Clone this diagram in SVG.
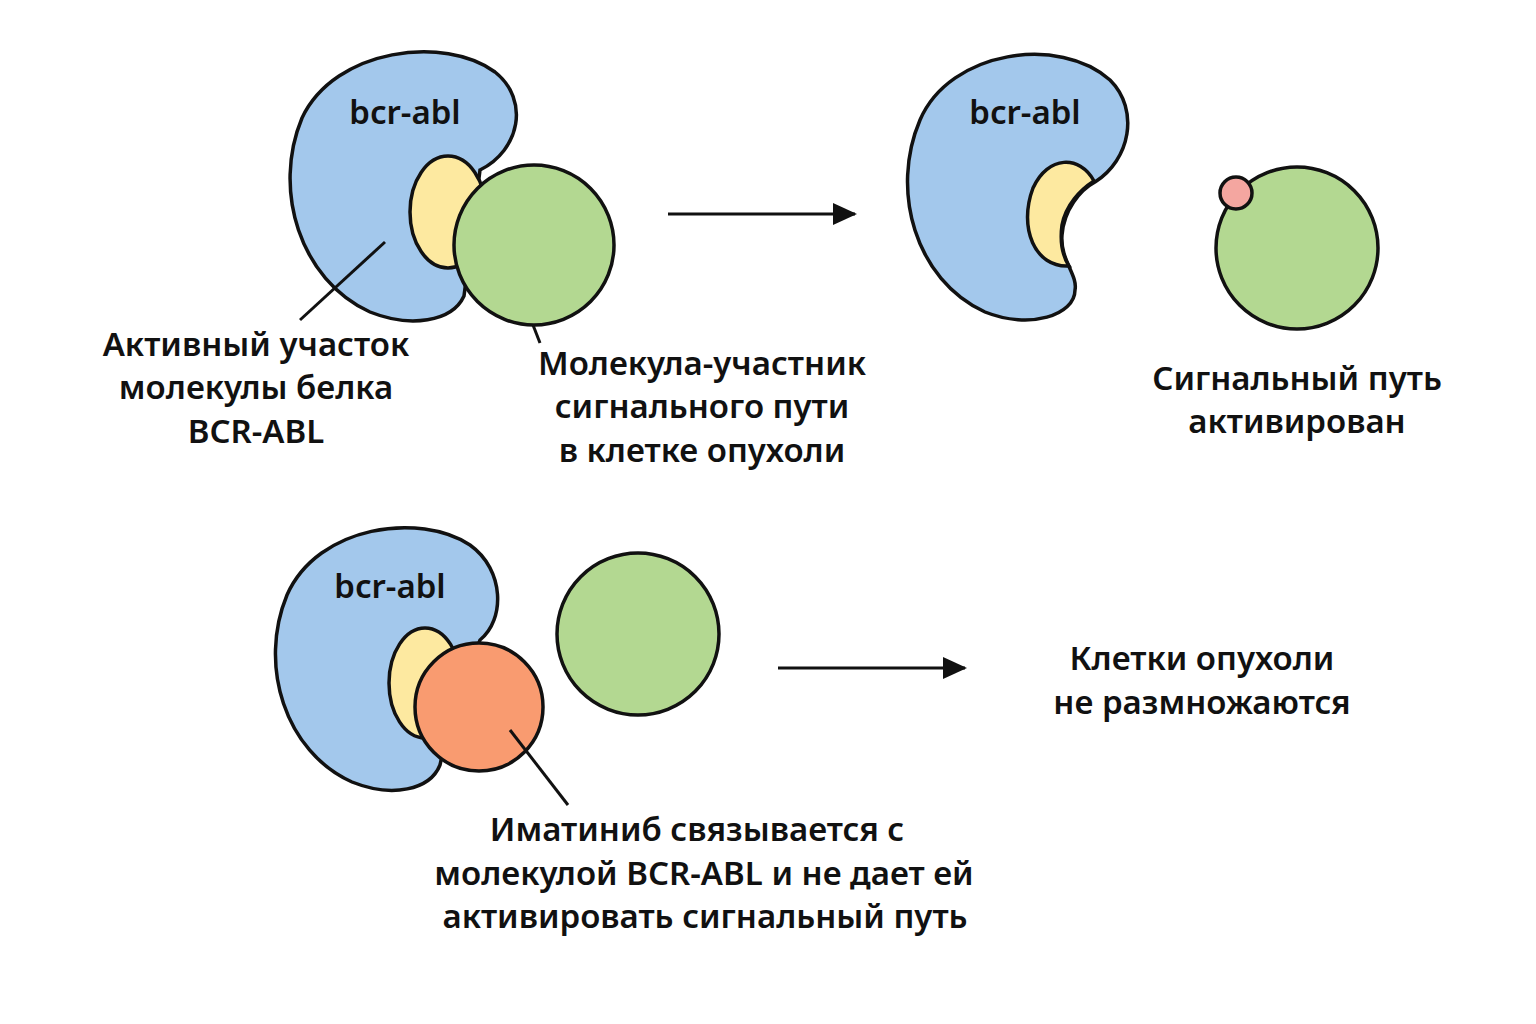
<svg xmlns="http://www.w3.org/2000/svg" width="1536" height="1024" viewBox="0 0 1536 1024">
<defs><style>
.s{stroke:#111;stroke-width:3.5}
.b{fill:#a3c8ec}.y{fill:#fde9a0}.g{fill:#b3d891}.o{fill:#f99b70}.p{fill:#f4a6a0}
.t{font-family:"Noto Sans",sans-serif;font-size:33px;font-weight:600;fill:#111;text-anchor:middle}
.l{stroke:#111;stroke-width:3;fill:none}
</style>
<marker id="ah" markerWidth="24" markerHeight="24" refX="22" refY="12" orient="auto" markerUnits="userSpaceOnUse" viewBox="0 0 24 24"><path d="M0,1 L24,12 L0,23 Z" fill="#111"/></marker>
</defs>
<rect width="1536" height="1024" fill="#fff"/>
<g id="n1">
<path class="s b" d="M480 170 C520 150,530 100,495 72 C445 35,335 48,302 118 C272 190,300 280,370 312 C410 328,452 322,464 296 L470 250 Z"/>
<ellipse class="s y" cx="448" cy="212" rx="38" ry="56"/>
<circle class="s g" cx="534" cy="245" r="80"/>
<text class="t" x="405" y="124">bcr-abl</text>
</g>
<g id="n2">
<path class="s b" d="M1095 182 C1130 160,1140 110,1110 80 C1060 35,950 50,920 120 C890 190,915 280,985 312 C1030 330,1075 315,1075 290 C1078 275,1060 260,1062 235 C1064 210,1080 190,1095 182 Z"/>
<path class="s y" d="M1094 181 C1080 155,1048 155,1033 188 C1018 228,1035 268,1069 266 C1062 255,1060 240,1062 225 C1066 205,1080 190,1094 181 Z"/>
<text class="t" x="1025" y="124">bcr-abl</text>
</g>
<g id="n3">
<circle class="s g" cx="1297" cy="248" r="81"/>
<circle class="s p" cx="1236" cy="193" r="16"/>
</g>
<g id="n4">
<path class="s b" d="M480 640 C505 620,505 570,470 545 C420 512,318 525,287 595 C258 665,285 752,352 782 C392 798,430 790,440 765 L450 720 Z"/>
<ellipse class="s y" cx="425" cy="683" rx="36" ry="55"/>
<circle class="s o" cx="479" cy="707" r="64"/>
<text class="t" x="390" y="598">bcr-abl</text>
</g>
<g id="n5"><circle class="s g" cx="638" cy="634" r="81"/></g>
<g id="connectors">
<line class="l" x1="668" y1="214" x2="855" y2="214" marker-end="url(#ah)" stroke-width="4"/>
<line class="l" x1="778" y1="668" x2="965" y2="668" marker-end="url(#ah)" stroke-width="4"/>
<line class="l" x1="300" y1="320" x2="385" y2="242"/>
<line class="l" x1="533" y1="325" x2="540" y2="343"/>
<line class="l" x1="510" y1="730" x2="568" y2="805"/>
</g>
<g id="labels">
<text class="t" x="256" y="356">Активный участок</text>
<text class="t" x="256" y="399">молекулы белка</text>
<text class="t" x="256" y="443">BCR-ABL</text>
<text class="t" x="702" y="375">Молекула-участник</text>
<text class="t" x="702" y="418">сигнального пути</text>
<text class="t" x="702" y="462">в клетке опухоли</text>
<text class="t" x="1297" y="390">Сигнальный путь</text>
<text class="t" x="1297" y="433">активирован</text>
<text class="t" x="1202" y="670">Клетки опухоли</text>
<text class="t" x="1202" y="714">не размножаются</text>
<text class="t" x="697" y="841">Иматиниб связывается с</text>
<text class="t" x="704" y="885">молекулой BCR-ABL и не дает ей</text>
<text class="t" x="705" y="928">активировать сигнальный путь</text>
</g>
</svg>
